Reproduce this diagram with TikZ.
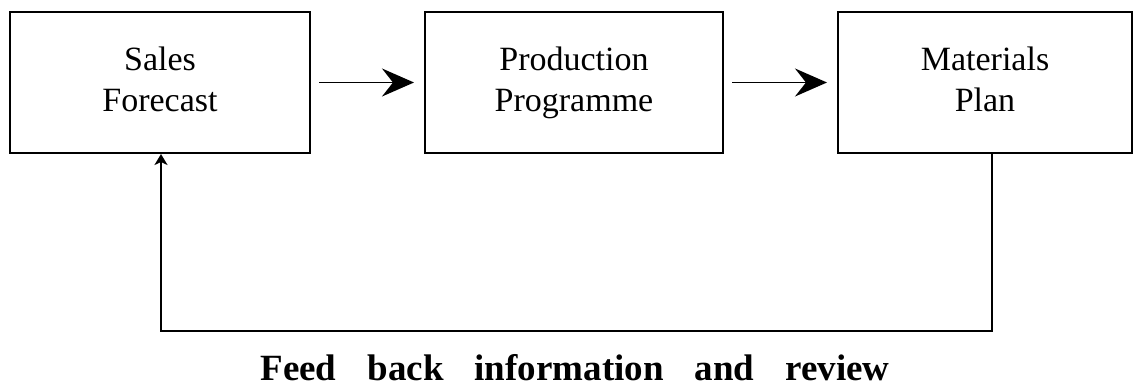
\documentclass[tikz,border=0pt]{standalone}
\usepackage{fontspec}
\setmainfont{Liberation Serif}
\usetikzlibrary{arrows.meta}
\begin{document}
\begin{tikzpicture}[x=1pt,y=-1pt,
  stagebox/.style={draw, line width=2pt, minimum height=141pt, inner sep=0pt,
    align=center, font=\fontsize{34}{41}\selectfont},
  flow/.style={line width=1.8pt, -{Stealth[length=32pt,width=28pt,inset=11pt]}},
  feedback/.style={line width=2.2pt, -{Stealth[length=11pt,width=13pt,inset=3pt]}},
  caption/.style={font=\fontsize{37}{42}\selectfont\bfseries, inner sep=0pt, anchor=base}]
  \useasboundingbox (0,0) rectangle (1133,387);

  % the three planning stages
  \node[stagebox, minimum width=300pt] (sales) at (160,82.5) {\strut Sales\\\strut Forecast};
  \node[stagebox, minimum width=298pt] (prod)  at (574,82.5) {\strut Production\\\strut Programme};
  \node[stagebox, minimum width=294pt] (mat)   at (985,82.5) {\strut Materials\\\strut Plan};

  % forward flow
  \draw[flow] ([xshift=8pt]sales.east) -- ([xshift=-10pt]prod.west);
  \draw[flow] ([xshift=8pt]prod.east) -- ([xshift=-10pt]mat.west);

  % feedback loop
  \coordinate (fbR) at (992,331);
  \coordinate (fbL) at (161,331);
  \draw[feedback] ([xshift=7pt]mat.south) -- (fbR) -- (fbL) -- ([xshift=1pt]sales.south);

  \node[caption] (cap) at (575,381) {\spaceskip=31pt Feed back information and review};
\end{tikzpicture}
\end{document}
